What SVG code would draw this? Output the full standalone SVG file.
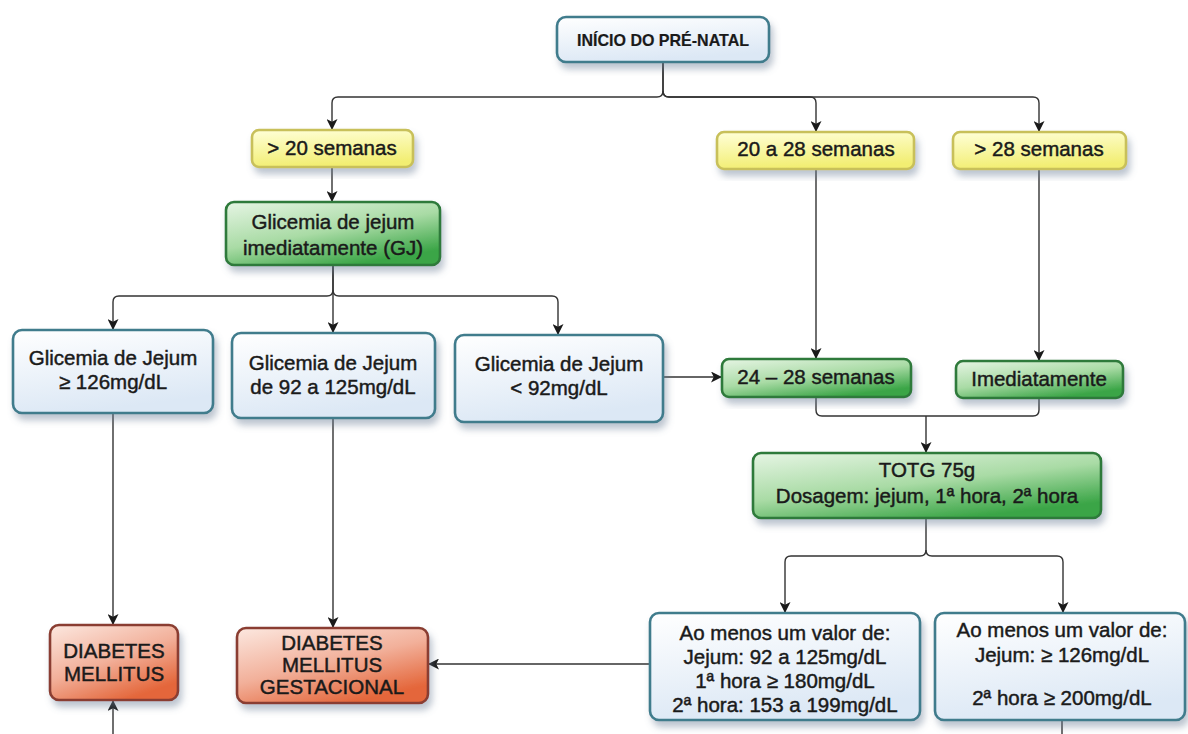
<svg xmlns="http://www.w3.org/2000/svg" width="1188" height="734" viewBox="0 0 1188 734">
<defs>
<linearGradient id="gBlue" x1="0" y1="0" x2="0.3" y2="1"><stop offset="0" stop-color="#ffffff"/><stop offset="1" stop-color="#dce8f5"/></linearGradient>
<linearGradient id="gYel" x1="0" y1="0" x2="0.2" y2="1"><stop offset="0" stop-color="#ffffd8"/><stop offset="1" stop-color="#f2ee72"/></linearGradient>
<linearGradient id="gGreen" x1="0" y1="0" x2="0.6" y2="1"><stop offset="0" stop-color="#e6f5e4"/><stop offset="0.55" stop-color="#a9dba5"/><stop offset="1" stop-color="#3aa546"/></linearGradient>
<linearGradient id="gRed" x1="0" y1="0" x2="0.6" y2="1"><stop offset="0" stop-color="#fce8e0"/><stop offset="0.55" stop-color="#f2b09a"/><stop offset="1" stop-color="#e4663a"/></linearGradient>
<filter id="sh" x="-10%" y="-10%" width="125%" height="140%"><feDropShadow dx="3" dy="6" stdDeviation="3.5" flood-color="#6a7f95" flood-opacity="0.45"/></filter>
<marker id="ar" viewBox="0 0 10 10" refX="10" refY="5" markerWidth="11" markerHeight="11" markerUnits="userSpaceOnUse" orient="auto"><path d="M0,0 L10,5 L0,10 L2.5,5 z" fill="#1a1a1a"/></marker>
</defs>
<style>
.b{filter:url(#sh);stroke-width:2.6}
.blue{fill:url(#gBlue);stroke:#3f7b8c}
.yel{fill:url(#gYel);stroke:#c8c05a}
.grn{fill:url(#gGreen);stroke:#2f7a3a}
.red{fill:url(#gRed);stroke:#8a3e30}
text{font-family:"Liberation Sans",Arial,sans-serif;font-size:20.5px;fill:#1a1a1a;stroke:#1a1a1a;stroke-width:0.45;text-anchor:middle}
.st{font-weight:bold;font-size:17px;stroke-width:0.2}
.c{fill:none;stroke:#333;stroke-width:1.4}
.ca{fill:none;stroke:#333;stroke-width:1.4;marker-end:url(#ar)}
</style>
<rect width="1188" height="734" fill="#ffffff"/>

<g id="connectors">
<path class="ca" d="M663,62 V91 q0,6 -6,6 H338 q-6,0 -6,6 V130"/>
<path class="ca" d="M663,62 V91 q0,6 6,6 H810 q6,0 6,6 V132"/>
<path class="ca" d="M663,91 q0,6 6,6 H1033 q6,0 6,6 V132"/>
<path class="ca" d="M332,167 V202"/>
<path class="ca" d="M333,265 V290 q0,6 -6,6 H119 q-6,0 -6,6 V330"/>
<path class="ca" d="M333,265 V333"/>
<path class="ca" d="M333,290 q0,6 6,6 H552 q6,0 6,6 V335"/>
<path class="ca" d="M663,377 H722"/>
<path class="ca" d="M816,169 V359"/>
<path class="ca" d="M1039,169 V361"/>
<path class="c" d="M816,397 V410 q0,6 6,6 H1033 q6,0 6,-6 V398"/>
<path class="ca" d="M926,416 V453"/>
<path class="ca" d="M926,518 V550 q0,6 -6,6 H791 q-6,0 -6,6 V613"/>
<path class="ca" d="M926,550 q0,6 6,6 H1057 q6,0 6,6 V613"/>
<path class="ca" d="M113,413 V625"/>
<path class="ca" d="M333,418 V628"/>
<path class="ca" d="M650,664 H428"/>
<path class="ca" d="M1062,720 V750 H113 V700"/>
</g>

<g id="n-inicio"><rect class="b blue" x="557" y="17" width="212" height="45" rx="9"/><text class="st" x="663" y="46" textLength="172" lengthAdjust="spacingAndGlyphs">INÍCIO DO PRÉ-NATAL</text></g>

<g id="n-gt20"><rect class="b yel" x="252" y="130" width="161" height="37" rx="7"/><text x="332" y="155">&gt; 20 semanas</text></g>
<g id="n-20a28"><rect class="b yel" x="717" y="132" width="197" height="37" rx="7"/><text x="816" y="156">20 a 28 semanas</text></g>
<g id="n-gt28"><rect class="b yel" x="953" y="132" width="173" height="37" rx="7"/><text x="1039" y="156">&gt; 28 semanas</text></g>

<g id="n-gj"><rect class="b grn" x="226" y="202" width="214" height="63" rx="8"/><text x="333" y="229">Glicemia de jejum</text><text x="333" y="255">imediatamente (GJ)</text></g>

<g id="n-g126"><rect class="b blue" x="13" y="330" width="200" height="83" rx="9"/><text x="113" y="365">Glicemia de Jejum</text><text x="113" y="389">≥ 126mg/dL</text></g>
<g id="n-g92125"><rect class="b blue" x="232" y="333" width="203" height="85" rx="9"/><text x="333" y="370">Glicemia de Jejum</text><text x="333" y="394">de 92 a 125mg/dL</text></g>
<g id="n-g92"><rect class="b blue" x="455" y="335" width="208" height="87" rx="9"/><text x="559" y="371">Glicemia de Jejum</text><text x="559" y="395">&lt; 92mg/dL</text></g>

<g id="n-2428"><rect class="b grn" x="722" y="359" width="189" height="38" rx="7"/><text x="816" y="384">24 – 28 semanas</text></g>
<g id="n-imed"><rect class="b grn" x="956" y="361" width="167" height="37" rx="7"/><text x="1039" y="386">Imediatamente</text></g>

<g id="n-totg"><rect class="b grn" x="753" y="453" width="348" height="65" rx="8"/><text x="927" y="477">TOTG 75g</text><text x="927" y="503">Dosagem: jejum, 1ª hora, 2ª hora</text></g>

<g id="n-box1"><rect class="b blue" x="650" y="613" width="270" height="107" rx="9"/><text x="785" y="640">Ao menos um valor de:</text><text x="785" y="664">Jejum: 92 a 125mg/dL</text><text x="785" y="688">1ª hora ≥ 180mg/dL</text><text x="785" y="712">2ª hora: 153 a 199mg/dL</text></g>
<g id="n-box2"><rect class="b blue" x="935" y="613" width="250" height="107" rx="9"/><text x="1062" y="637">Ao menos um valor de:</text><text x="1062" y="662">Jejum: ≥ 126mg/dL</text><text x="1062" y="705">2ª hora ≥ 200mg/dL</text></g>

<g id="n-dm"><rect class="b red" x="50" y="625" width="128" height="75" rx="9"/><text x="114" y="658">DIABETES</text><text x="114" y="681">MELLITUS</text></g>
<g id="n-dmg"><rect class="b red" x="237" y="628" width="191" height="75" rx="9"/><text x="332" y="650">DIABETES</text><text x="332" y="672">MELLITUS</text><text x="332" y="694">GESTACIONAL</text></g>
</svg>
